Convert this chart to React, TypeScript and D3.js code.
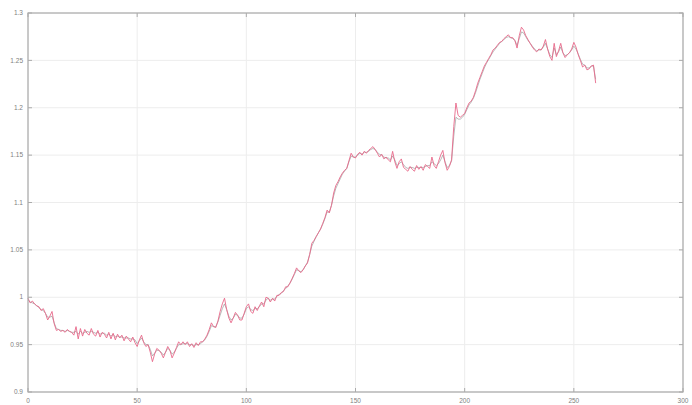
import React from "react";
import * as d3 from "d3";

const xTicks = [0, 50, 100, 150, 200, 250, 300];
const yTicks = [0.9, 0.95, 1, 1.05, 1.1, 1.15, 1.2, 1.25, 1.3];
const yTickLabels = ["0.9", "0.95", "1", "1.05", "1.1", "1.15", "1.2", "1.25", "1.3"];

const actual = [
  0.999, 0.994, 0.996, 0.993, 0.991, 0.990, 0.986, 0.988, 0.983, 0.976,
  0.980, 0.985, 0.972, 0.965, 0.966, 0.964, 0.965, 0.963, 0.966, 0.964,
  0.963, 0.960, 0.969, 0.956, 0.967, 0.959, 0.966, 0.962, 0.960, 0.967,
  0.961, 0.959, 0.965, 0.958, 0.963, 0.961, 0.957, 0.963, 0.956, 0.962,
  0.955, 0.961, 0.957, 0.960, 0.954, 0.959, 0.956, 0.953, 0.958, 0.952,
  0.948, 0.955, 0.960, 0.952, 0.948, 0.950, 0.942, 0.932, 0.940, 0.946,
  0.944, 0.941, 0.936, 0.942, 0.948, 0.944, 0.936, 0.941, 0.947, 0.953,
  0.950, 0.953, 0.950, 0.953, 0.948, 0.951, 0.947, 0.952, 0.949, 0.953,
  0.953, 0.956, 0.960, 0.966, 0.973, 0.969, 0.968, 0.975, 0.985, 0.993,
  0.999, 0.987, 0.978, 0.973, 0.978, 0.984, 0.981, 0.976, 0.976, 0.983,
  0.990, 0.993, 0.985, 0.983, 0.990, 0.986, 0.991, 0.995, 0.990, 1.000,
  0.999, 0.995, 0.999, 0.996, 1.002, 1.002, 1.005, 1.006, 1.011, 1.011,
  1.015, 1.020, 1.025, 1.031, 1.028, 1.026, 1.029, 1.033, 1.036, 1.045,
  1.057, 1.060, 1.064, 1.068, 1.072, 1.078, 1.084, 1.092, 1.089, 1.097,
  1.110, 1.118, 1.122, 1.127, 1.131, 1.134, 1.136, 1.144, 1.152, 1.148,
  1.147, 1.151, 1.153, 1.150, 1.154, 1.152, 1.155, 1.157, 1.159, 1.156,
  1.152, 1.148, 1.151, 1.146, 1.148, 1.145, 1.143, 1.154, 1.143, 1.136,
  1.143, 1.146, 1.137, 1.135, 1.133, 1.138, 1.135, 1.133, 1.139, 1.135,
  1.138, 1.134, 1.140, 1.138, 1.136, 1.148, 1.139, 1.136, 1.143, 1.150,
  1.155, 1.142, 1.134, 1.138, 1.145, 1.180, 1.205, 1.192, 1.190, 1.192,
  1.194, 1.200, 1.205, 1.207, 1.211, 1.218, 1.226, 1.232, 1.238, 1.244,
  1.248, 1.252, 1.256, 1.261, 1.263, 1.266, 1.269, 1.270, 1.273, 1.275,
  1.277, 1.274, 1.274, 1.271, 1.263, 1.276, 1.285, 1.282, 1.276, 1.272,
  1.268, 1.264, 1.261, 1.259, 1.262, 1.261, 1.265, 1.272, 1.262, 1.254,
  1.250, 1.268, 1.254, 1.260, 1.268, 1.258, 1.253, 1.256, 1.258, 1.262,
  1.269, 1.264, 1.256, 1.250, 1.243, 1.245, 1.240, 1.241, 1.244, 1.245,
  1.226,
];

const fitted = [
  0.997, 0.995, 0.994, 0.993, 0.991, 0.989, 0.987, 0.986, 0.983, 0.979,
  0.979, 0.980, 0.973, 0.967, 0.966, 0.965, 0.965, 0.964, 0.965, 0.964,
  0.963, 0.963, 0.964, 0.961, 0.964, 0.962, 0.963, 0.964, 0.963, 0.964,
  0.963, 0.962, 0.963, 0.961, 0.962, 0.962, 0.960, 0.961, 0.959, 0.961,
  0.958, 0.959, 0.958, 0.958, 0.957, 0.957, 0.957, 0.956, 0.956, 0.955,
  0.951, 0.954, 0.957, 0.953, 0.950, 0.950, 0.945, 0.938, 0.941, 0.944,
  0.944, 0.942, 0.939, 0.942, 0.946, 0.944, 0.940, 0.942, 0.946, 0.950,
  0.950, 0.951, 0.951, 0.951, 0.950, 0.950, 0.949, 0.950, 0.950, 0.951,
  0.953, 0.955, 0.959, 0.964, 0.970, 0.969, 0.969, 0.974, 0.981, 0.988,
  0.993, 0.987, 0.980, 0.976, 0.978, 0.982, 0.981, 0.978, 0.978, 0.982,
  0.988, 0.990, 0.987, 0.986, 0.988, 0.988, 0.990, 0.993, 0.993, 0.997,
  0.999, 0.997, 0.998, 0.998, 1.001, 1.003, 1.004, 1.007, 1.009, 1.012,
  1.015, 1.019, 1.024, 1.029, 1.028, 1.027, 1.029, 1.033, 1.037, 1.045,
  1.054, 1.059, 1.064, 1.068, 1.072, 1.077, 1.083, 1.090, 1.090, 1.097,
  1.107, 1.115, 1.120, 1.125, 1.130, 1.133, 1.136, 1.143, 1.149, 1.148,
  1.148, 1.150, 1.152, 1.151, 1.153, 1.153, 1.154, 1.156, 1.157, 1.156,
  1.153, 1.151, 1.150, 1.148, 1.147, 1.147, 1.145, 1.149, 1.145, 1.139,
  1.141, 1.143, 1.140, 1.137, 1.136, 1.137, 1.137, 1.136, 1.137, 1.137,
  1.137, 1.137, 1.138, 1.139, 1.139, 1.143, 1.141, 1.139, 1.141, 1.145,
  1.150, 1.143, 1.137, 1.139, 1.144, 1.170, 1.190, 1.188, 1.188, 1.190,
  1.193, 1.198, 1.203, 1.206, 1.210, 1.216, 1.223, 1.230, 1.236, 1.242,
  1.247, 1.251, 1.255, 1.259, 1.262, 1.265, 1.268, 1.270, 1.272, 1.274,
  1.275, 1.274, 1.273, 1.271, 1.266, 1.273, 1.280, 1.279, 1.275, 1.271,
  1.268, 1.265, 1.262, 1.260, 1.261, 1.261, 1.264, 1.268, 1.262, 1.256,
  1.253, 1.263, 1.256, 1.259, 1.264, 1.258, 1.255, 1.256, 1.258, 1.261,
  1.265, 1.262, 1.257, 1.251, 1.246, 1.245, 1.242, 1.242, 1.244, 1.244,
  1.230,
];

const W = 692;
const H = 405;
const left = 28;
const right = 683;
const top = 13;
const bottom = 392;

export default function App() {
  const x = d3.scaleLinear().domain([0, 300]).range([left, right]);
  const y = d3.scaleLinear().domain([0.9, 1.3]).range([bottom, top]);
  const line = d3
    .line<number>()
    .x((_, i) => x(i))
    .y((d) => y(d));

  const axisColor = "#ababab";
  const gridColor = "#ededed";
  const textColor = "#808080";

  return (
    <svg
      width={W}
      height={H}
      style={{ position: "absolute", left: 0, top: 0, background: "#fff" }}
      fontFamily="Liberation Sans, Arial, sans-serif"
    >
      <rect x={0} y={0} width={W} height={H} fill="#fff" />
      {xTicks.map((t) => (
        <line key={"gx" + t} x1={x(t)} x2={x(t)} y1={top} y2={bottom} stroke={gridColor} strokeWidth={1} />
      ))}
      {yTicks.map((t) => (
        <line key={"gy" + t} x1={left} x2={right} y1={y(t)} y2={y(t)} stroke={gridColor} strokeWidth={1} />
      ))}
      <path d={line(fitted) || ""} fill="none" stroke="#8a8a8a" strokeWidth={0.6} />
      <path d={line(actual) || ""} fill="none" stroke="#e8698a" strokeWidth={0.9} />
      <rect x={left} y={top} width={right - left} height={bottom - top} fill="none" stroke={axisColor} strokeWidth={1.2} />
      {xTicks.map((t) => (
        <g key={"tx" + t}>
          <line x1={x(t)} x2={x(t)} y1={bottom} y2={bottom - 4} stroke={axisColor} />
          <line x1={x(t)} x2={x(t)} y1={top} y2={top + 4} stroke={axisColor} />
          <text x={x(t)} y={403} fontSize={6.5} fill={textColor} textAnchor="middle">
            {t}
          </text>
        </g>
      ))}
      {yTicks.map((t, i) => (
        <g key={"ty" + t}>
          <line x1={left} x2={left + 4} y1={y(t)} y2={y(t)} stroke={axisColor} />
          <line x1={right} x2={right - 4} y1={y(t)} y2={y(t)} stroke={axisColor} />
          <text x={left - 5} y={y(t) + 2.2} fontSize={6.5} fill={textColor} textAnchor="end">
            {yTickLabels[i]}
          </text>
        </g>
      ))}
    </svg>
  );
}
